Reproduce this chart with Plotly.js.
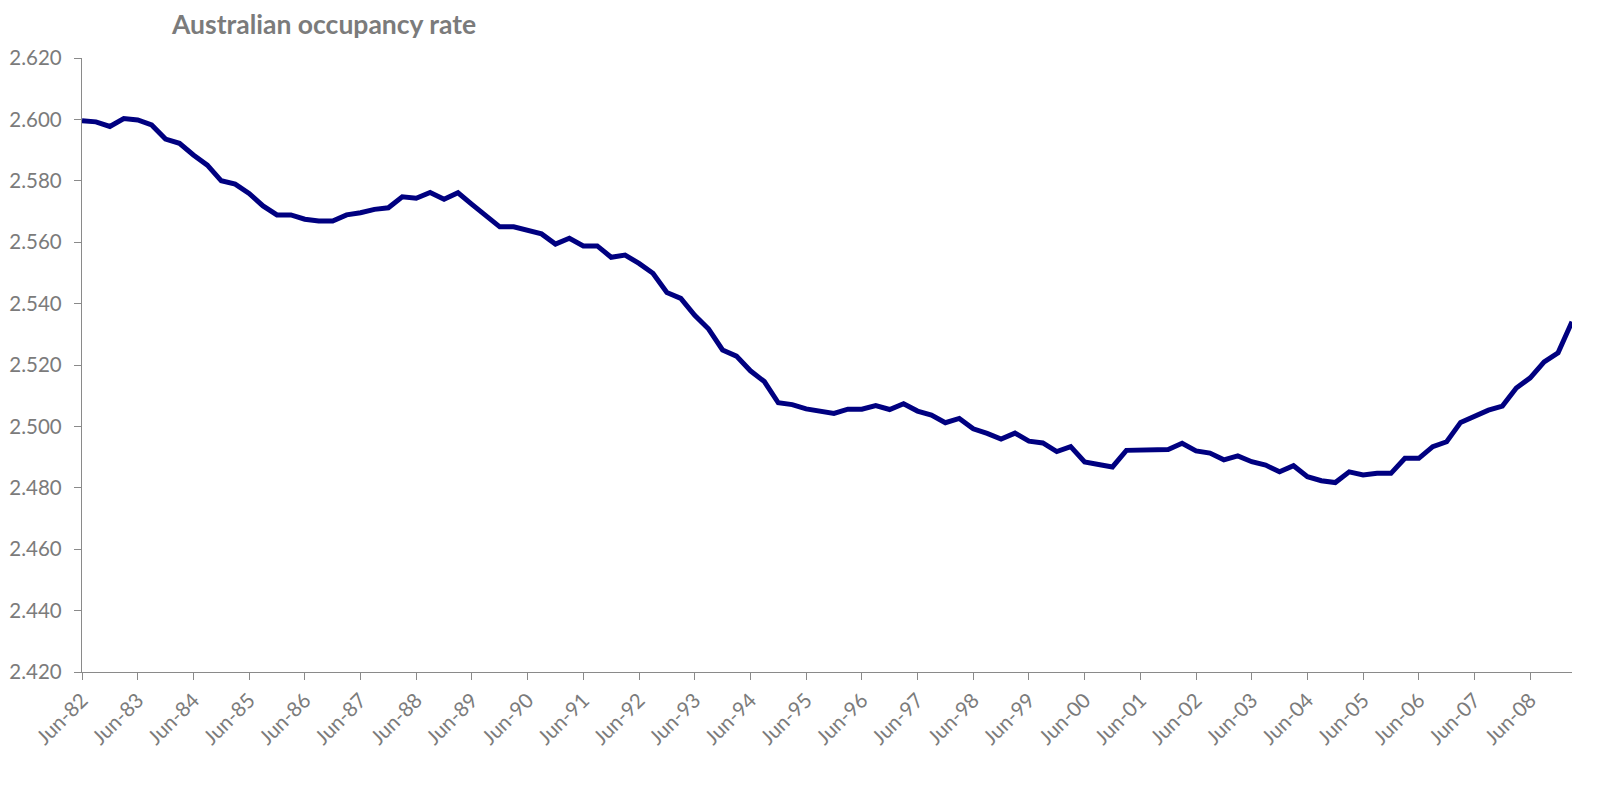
<!DOCTYPE html>
<html>
<head>
<meta charset="utf-8">
<script src="https://cdn.plot.ly/plotly-3.0.1.min.js"></script>
<style>
  html, body { margin: 0; padding: 0; background: #ffffff; }
  #chart { width: 1600px; height: 798px; }
</style>
</head>
<body>
<div id="chart"></div>
<script>
// quarterly series, Jun-82 .. Mar-09
const quarterMonths = ["Jun", "Sep", "Dec", "Mar"];
const firstYear = 1982;

const occupancy = [
  2.5996, 2.5992, 2.5977, 2.6003, 2.5998, 2.5982, 2.5936, 2.5922,
  2.5884, 2.5851, 2.5800, 2.5789, 2.5759, 2.5718, 2.5689, 2.5689,
  2.5675, 2.5669, 2.5669, 2.5689, 2.5696, 2.5707, 2.5712, 2.5748,
  2.5743, 2.5762, 2.5740, 2.5761, 2.5723, 2.5686, 2.5650, 2.5650,
  2.5640, 2.5627, 2.5594, 2.5613, 2.5588, 2.5588, 2.5551, 2.5558,
  2.5531, 2.5499, 2.5436, 2.5417, 2.5362, 2.5317, 2.5249, 2.5229,
  2.5181, 2.5146, 2.5077, 2.5071, 2.5057, 2.5050, 2.5042, 2.5056,
  2.5056, 2.5068, 2.5055, 2.5074, 2.5050, 2.5037, 2.5012, 2.5026,
  2.4992, 2.4977, 2.4959, 2.4978, 2.4952, 2.4946, 2.4918, 2.4934,
  2.4884, 2.4876, 2.4868, 2.4922, 2.4922, 2.4926, 2.4925, 2.4945,
  2.4920, 2.4913, 2.4891, 2.4904, 2.4885, 2.4874, 2.4852, 2.4872,
  2.4836, 2.4823, 2.4817, 2.4852, 2.4842, 2.4847, 2.4847, 2.4896,
  2.4896, 2.4934, 2.4950, 2.5013, 2.5032, 2.5053, 2.5066, 2.5125,
  2.5158, 2.5210, 2.5240, 2.5341
];

const yTicks = [2.42, 2.44, 2.46, 2.48, 2.50, 2.52, 2.54, 2.56, 2.58, 2.60, 2.62];

// category labels like "Jun-82", "Sep-82", "Dec-82", "Mar-83"
let quarters = [];
for (let i = 0; i < occupancy.length; i++) {
  const m = quarterMonths[i % 4];
  const yr = firstYear + Math.floor((i + 1) / 4);
  quarters.push(m + "-" + String(yr % 100).padStart(2, "0"));
}
const juneLabels = quarters.filter((q) => q.startsWith("Jun"));

const gray = "#7b7b7b";
const axisGray = "#8a8a8a";

const data = [
  {
    x: quarters,
    y: occupancy,
    type: "scatter",
    mode: "lines",
    line: { color: "#000080", width: 5 },
    hoverinfo: "x+y",
  },
];

const layout = {
  width: 1600,
  height: 798,
  paper_bgcolor: "#ffffff",
  plot_bgcolor: "#ffffff",
  showlegend: false,
  margin: { l: 82, r: 28, t: 58, b: 126 },
  font: { family: "Lato, 'Open Sans', sans-serif", color: gray },
  title: {
    text: "<b>Australian occupancy rate</b>",
    font: { family: "Lato, 'Open Sans', sans-serif", size: 26.5, color: gray },
    xref: "container",
    yref: "container",
    x: 172 / 1600,
    xanchor: "left",
    y: 1 - 25 / 798,
    yanchor: "middle",
  },
  xaxis: {
    type: "category",
    range: [0, occupancy.length - 1],
    tickmode: "array",
    tickvals: juneLabels,
    ticktext: juneLabels,
    tickangle: -45,
    tickfont: { size: 20.5, color: gray },
    showgrid: false,
    zeroline: false,
    showline: true,
    linecolor: axisGray,
    linewidth: 1.3,
    ticks: "outside",
    ticklen: 7,
    tickcolor: axisGray,
    tickwidth: 1.3,
  },
  yaxis: {
    range: [2.42, 2.62],
    tickmode: "array",
    tickvals: yTicks,
    tickformat: ".3f",
    tickfont: { size: 20.5, color: gray },
    showgrid: false,
    zeroline: false,
    showline: true,
    linecolor: axisGray,
    linewidth: 1.3,
    ticks: "outside",
    ticklen: 7,
    tickcolor: axisGray,
    tickwidth: 1.3,
    ticklabelstandoff: 8,
  },
};

Plotly.newPlot("chart", data, layout, { displayModeBar: false, responsive: false });
</script>
</body>
</html>
